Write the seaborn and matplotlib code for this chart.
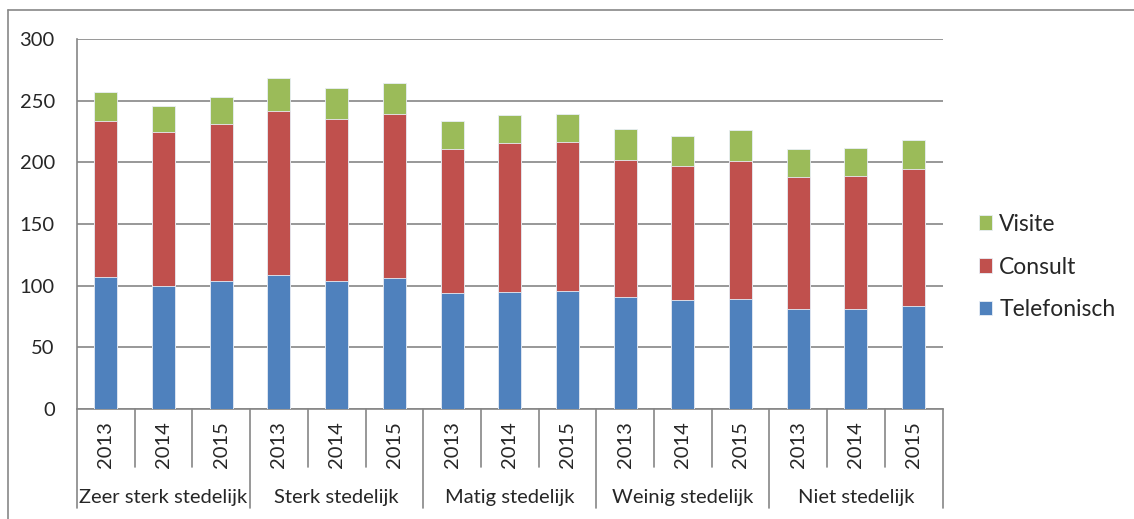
import numpy as np
import pandas as pd
import matplotlib
matplotlib.use('Agg')
import matplotlib.pyplot as plt
import seaborn as sns

# data
groups = ['Zeer sterk stedelijk', 'Sterk stedelijk', 'Matig stedelijk', 'Weinig stedelijk', 'Niet stedelijk']
years = ['2013', '2014', '2015']
telefonisch = [107.4, 99.8, 103.6, 108.7, 104.1, 106.6, 93.8, 94.9, 95.4, 90.5, 88.4, 89.5, 81.4, 81.1, 83.8]
consult = [126.2, 124.6, 127.3, 132.7, 130.9, 132.4, 117.0, 120.5, 121.4, 111.2, 109.0, 111.6, 106.5, 107.6, 111.1]
visite = [23.5, 21.3, 21.9, 26.6, 25.3, 25.4, 23.0, 23.1, 22.5, 25.4, 24.3, 24.9, 23.3, 23.3, 23.1]

sns.set_style('white')
plt.rcParams['font.family'] = ['Lato', 'DejaVu Sans']

df = pd.DataFrame({
    'groep': np.repeat(groups, len(years)),
    'jaar': years * len(groups),
    'Telefonisch': telefonisch,
    'Consult': consult,
    'Visite': visite,
})
df['key'] = df['groep'] + '|' + df['jaar']
df['tel_top'] = df['Telefonisch']
df['con_top'] = df['Telefonisch'] + df['Consult']
df['vis_top'] = df['con_top'] + df['Visite']
order = list(df['key'])

fig = plt.figure(figsize=(11.34, 5.19), dpi=100)
ax = fig.add_axes([77 / 1134, 1 - 409 / 519, (942.5 - 77) / 1134, 370 / 519])

colors = {'Visite': '#9BBB59', 'Consult': '#C0504D', 'Telefonisch': '#4F81BD'}
for col, name in [('vis_top', 'Visite'), ('con_top', 'Consult'), ('tel_top', 'Telefonisch')]:
    sns.barplot(data=df, x='key', y=col, order=order, color=colors[name], width=0.4,
                edgecolor='#e8eef6', linewidth=0.6, saturation=1, ax=ax, label=name, zorder=3)
if ax.get_legend() is not None:
    ax.get_legend().remove()

ax.set_ylim(0, 300)
ax.set_xlim(-0.5, len(order) - 0.5)
ax.set_yticks(range(0, 301, 50))
ax.set_xticks([])
ax.set_xlabel('')
ax.set_ylabel('')
ax.yaxis.grid(True, color='#868686', linewidth=1.2, zorder=0)
ax.set_axisbelow(True)
for s in ['top', 'right']:
    ax.spines[s].set_visible(False)
for s in ['left', 'bottom']:
    ax.spines[s].set_color('#868686')
    ax.spines[s].set_linewidth(1.2)
ax.tick_params(axis='y', length=6, color='#868686', width=1.2, labelsize=14.5, pad=10)

# two-level category axis
trans = ax.get_xaxis_transform()
for i, key in enumerate(order):
    ax.text(i, -0.095, df['jaar'][i], rotation=90, ha='center', va='center',
            fontsize=14.5, transform=trans)
for i in range(len(order) + 1):
    xpos = i - 0.5
    low = -0.268 if i % 3 == 0 else -0.157
    ax.plot([xpos, xpos], [0, low], color='#868686', linewidth=1.2,
            transform=trans, clip_on=False)
for j, g in enumerate(groups):
    ax.text(j * 3 + 1, -0.238, g, ha='center', va='center', fontsize=14.5, transform=trans)

# legend: reverse so Visite is on top
handles, labels = ax.get_legend_handles_labels()
fig.legend(handles, labels, loc='center left', bbox_to_anchor=(958 / 1134, 1 - 267 / 519),
           frameon=False, fontsize=16.5, handlelength=0.6, handleheight=0.6,
           labelspacing=0.95, handletextpad=0.3)

# outer frame line
fig.add_artist(plt.Line2D([8 / 1134, 8 / 1134], [0, 1 - 10 / 519], color='#888888', linewidth=1.2))
fig.add_artist(plt.Line2D([8 / 1134, 1], [1 - 10 / 519, 1 - 10 / 519], color='#888888', linewidth=1.2))

fig.savefig('out.png', dpi=100)
